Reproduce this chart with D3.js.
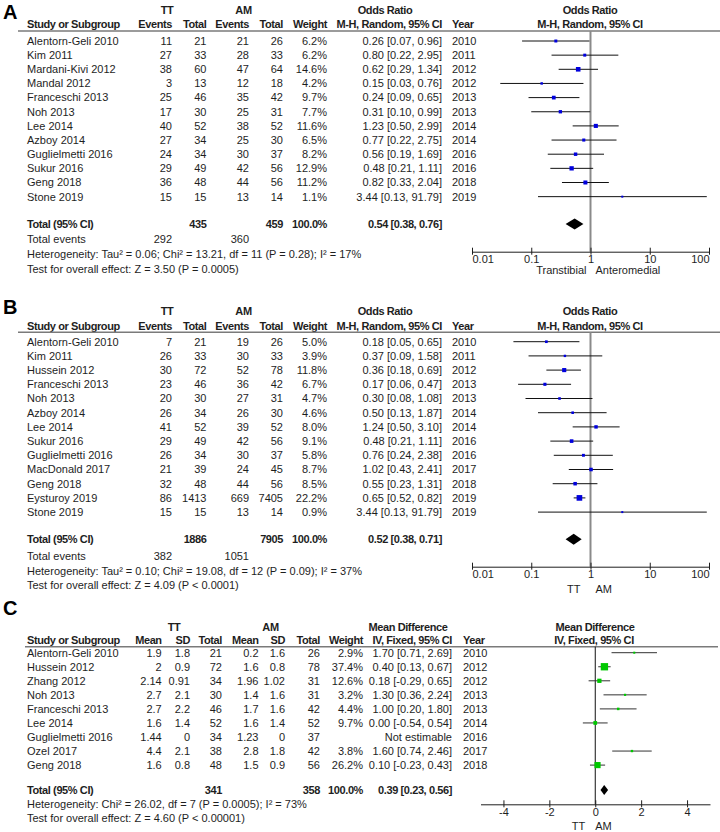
<!DOCTYPE html>
<html><head><meta charset="utf-8">
<script src="https://cdn.jsdelivr.net/npm/d3@7"></script>
<style>
body{margin:0;background:#fff}
svg{display:block}
text{font-family:"Liberation Sans",Arial,Helvetica,sans-serif;font-size:11px;fill:#1e1e1e}
text.b{font-weight:bold;letter-spacing:-0.4px}
text.lab{font-weight:bold;font-size:20px;fill:#000;letter-spacing:0}
</style>
</head><body>
<script>
// ---------- DATA ----------
const ticksOR = [0.01, 0.1, 1, 10, 100];
const ticksMD = [-4, -2, 0, 2, 4];

// Panel A
const studiesA = ["Alentorn-Geli 2010","Kim 2011","Mardani-Kivi 2012","Mandal 2012","Franceschi 2013","Noh 2013","Lee 2014","Azboy 2014","Guglielmetti 2016","Sukur 2016","Geng 2018","Stone 2019"];
const ttEventsA = [11,27,38,3,25,17,40,27,24,29,36,15];
const ttTotalA  = [21,33,60,13,46,30,52,34,34,49,48,15];
const amEventsA = [21,28,47,12,35,25,38,25,30,42,44,13];
const amTotalA  = [26,33,64,18,42,31,52,30,37,56,56,14];
const weightA   = [6.2,6.2,14.6,4.2,9.7,7.7,11.6,6.5,8.2,12.9,11.2,1.1];
const orA   = [0.26,0.80,0.62,0.15,0.24,0.31,1.23,0.77,0.56,0.48,0.82,3.44];
const lowA  = [0.07,0.22,0.29,0.03,0.09,0.10,0.50,0.22,0.19,0.21,0.33,0.13];
const highA = [0.96,2.95,1.34,0.76,0.65,0.99,2.99,2.75,1.69,1.11,2.04,91.79];
const yearA = [2010,2011,2012,2012,2013,2013,2014,2014,2016,2016,2018,2019];
const totalA  = [435,459];
const eventsA = [292,360];
const pooledA = [0.54,0.38,0.76];
const hetA  = "Heterogeneity: Tau\u00b2 = 0.06; Chi\u00b2 = 13.21, df = 11 (P = 0.28); I\u00b2 = 17%";
const testA = "Test for overall effect: Z = 3.50 (P = 0.0005)";
const favA  = ["Transtibial","Anteromedial"];

// Panel B
const studiesB = ["Alentorn-Geli 2010","Kim 2011","Hussein 2012","Franceschi 2013","Noh 2013","Azboy 2014","Lee 2014","Sukur 2016","Guglielmetti 2016","MacDonald 2017","Geng 2018","Eysturoy 2019","Stone 2019"];
const ttEventsB = [7,26,30,23,20,26,41,29,26,21,32,86,15];
const ttTotalB  = [21,33,72,46,30,34,52,49,34,39,48,1413,15];
const amEventsB = [19,30,52,36,27,26,39,42,30,24,44,669,13];
const amTotalB  = [26,33,78,42,31,30,52,56,37,45,56,7405,14];
const weightB   = [5.0,3.9,11.8,6.7,4.7,4.6,8.0,9.1,5.8,8.7,8.5,22.2,0.9];
const orB   = [0.18,0.37,0.36,0.17,0.30,0.50,1.24,0.48,0.76,1.02,0.55,0.65,3.44];
const lowB  = [0.05,0.09,0.18,0.06,0.08,0.13,0.50,0.21,0.24,0.43,0.23,0.52,0.13];
const highB = [0.65,1.58,0.69,0.47,1.08,1.87,3.10,1.11,2.38,2.41,1.31,0.82,91.79];
const yearB = [2010,2011,2012,2013,2013,2014,2014,2016,2016,2017,2018,2019,2019];
const totalB  = [1886,7905];
const eventsB = [382,1051];
const pooledB = [0.52,0.38,0.71];
const hetB  = "Heterogeneity: Tau\u00b2 = 0.10; Chi\u00b2 = 19.08, df = 12 (P = 0.09); I\u00b2 = 37%";
const testB = "Test for overall effect: Z = 4.09 (P < 0.0001)";
const favB  = ["TT","AM"];

// Panel C
const studiesC = ["Alentorn-Geli 2010","Hussein 2012","Zhang 2012","Noh 2013","Franceschi 2013","Lee 2014","Guglielmetti 2016","Ozel 2017","Geng 2018"];
const ttMeanC  = [1.9,2,2.14,2.7,2.7,1.6,1.44,4.4,1.6];
const ttSDC    = [1.8,0.9,0.91,2.1,2.2,1.4,0,2.1,0.8];
const ttTotalC = [21,72,34,30,46,52,34,38,48];
const amMeanC  = [0.2,1.6,1.96,1.4,1.7,1.6,1.23,2.8,1.5];
const amSDC    = [1.6,0.8,1.02,1.6,1.6,1.4,0,1.8,0.9];
const amTotalC = [26,78,31,31,42,52,37,42,56];
const weightC  = [2.9,37.4,12.6,3.2,4.4,9.7,null,3.8,26.2];
const mdC   = [1.70,0.40,0.18,1.30,1.00,0.00,null,1.60,0.10];
const lowC  = [0.71,0.13,-0.29,0.36,0.20,-0.54,null,0.74,-0.23];
const highC = [2.69,0.67,0.65,2.24,1.80,0.54,null,2.46,0.43];
const yearC = [2010,2012,2012,2013,2013,2014,2016,2017,2018];
const totalC  = [341,358];
const pooledC = [0.39,0.23,0.56];
const hetC  = "Heterogeneity: Chi\u00b2 = 26.02, df = 7 (P = 0.0005); I\u00b2 = 73%";
const testC = "Test for overall effect: Z = 4.60 (P < 0.00001)";
const favC  = ["TT","AM"];

// ---------- DRAWING ----------
const svg = d3.select("body").append("svg").attr("width",720).attr("height",832);
const f2 = v => v.toFixed(2);
const fw = v => v.toFixed(1) + "%";
const ciText = (m,l,h) => `${f2(m)} [${f2(l)}, ${f2(h)}]`;
const sizeScale = d3.scaleSqrt().domain([0,100]).range([0,12]);

function T(g,x,y,s,anchor,bold){
  const t = g.append("text").attr("x",x).attr("y",y).attr("dy","0.35em").text(s);
  if(anchor) t.attr("text-anchor",anchor);
  if(bold) t.attr("class","b");
  return t;
}

function forest(g, L, x, rows, ciLow, ciHigh, est, wts, color, lineColor, pooled, nullVal, ticks, fav, nullStyle){
  g.append("line").attr("x1",x(nullVal)).attr("x2",x(nullVal)).attr("y1",L.lineY).attr("y2",L.axisY)
    .attr("stroke",nullStyle.color).attr("stroke-width",nullStyle.width);
  const idx = d3.range(rows.length).filter(i => est[i] !== null);
  const y = L.y;
  g.selectAll(null).data(idx).join("line")
    .attr("x1",i=>x(ciLow[i])).attr("x2",i=>x(ciHigh[i]))
    .attr("y1",i=>y(i)).attr("y2",i=>y(i))
    .attr("stroke",lineColor).attr("stroke-width",1);
  const s = i => Math.max(2,sizeScale(wts[i]));
  g.selectAll(null).data(idx).join("rect")
    .attr("x",i=>x(est[i]) - s(i)/2)
    .attr("y",i=>y(i) - s(i)/2)
    .attr("width",s).attr("height",s)
    .attr("fill",color);
  const h = L.diamondH/2;
  const pts = [[x(pooled[1]),L.totalY],[x(pooled[0]),L.totalY-h],[x(pooled[2]),L.totalY],[x(pooled[0]),L.totalY+h]];
  g.append("path").attr("d",d3.line()(pts)+"Z").attr("fill","#000");
  const ax = g.append("g").attr("transform",`translate(0,${L.axisY})`)
    .call(d3.axisBottom(x).tickValues(ticks).tickFormat(d=>String(d)).tickSizeInner(3).tickSizeOuter(0).tickPadding(1));
  ax.select(".domain").attr("stroke","#1e1e1e");
  ax.selectAll(".tick line").attr("y1",-4).attr("stroke","#1e1e1e");
  if(L.edgeAnchor){
    ax.selectAll(".tick text").attr("text-anchor",(d,i)=> i===0?"start":(i===ticks.length-1?"end":"middle"));
  }
  T(g, x(nullVal)-L.favGapL, L.favY, fav[0], "end");
  T(g, x(nullVal)+L.favGapR, L.favY, fav[1], "start");
}

function binaryPanel(L, d){
  const g = svg.append("g");
  const n = d.studies.length;
  L.y = d3.scaleLinear().domain([0,n-1]).range([L.row0, L.row0 + L.step*(n-1)]);
  const x = d3.scaleLog().domain([ticksOR[0], ticksOR[ticksOR.length-1]]).range([472,709]);
  g.append("text").attr("class","lab").attr("x",3).attr("y",L.labelY).text(L.label);
  T(g,167,L.h1,"TT","middle",true);
  T(g,243.5,L.h1,"AM","middle",true);
  T(g,385,L.h1,"Odds Ratio","middle",true);
  T(g,590,L.h1,"Odds Ratio","middle",true);
  T(g,27,L.h2,"Study or Subgroup","start",true);
  T(g,172,L.h2,"Events","end",true);
  T(g,206.5,L.h2,"Total","end",true);
  T(g,249,L.h2,"Events","end",true);
  T(g,283,L.h2,"Total","end",true);
  T(g,327,L.h2,"Weight","end",true);
  T(g,442,L.h2,"M-H, Random, 95% CI","end",true);
  T(g,452,L.h2,"Year","start",true);
  T(g,590,L.h2,"M-H, Random, 95% CI","middle",true);
  g.append("line").attr("x1",18).attr("x2",720).attr("y1",L.lineY).attr("y2",L.lineY).attr("stroke","#7a7a7a").attr("stroke-width",1.5);
  const cols = [
    [27,"start",i=>d.studies[i]],
    [172,"end",i=>d.ttE[i]],
    [206.5,"end",i=>d.ttT[i]],
    [249,"end",i=>d.amE[i]],
    [283,"end",i=>d.amT[i]],
    [327,"end",i=>fw(d.w[i])],
    [442,"end",i=>ciText(d.or[i],d.lo[i],d.hi[i])],
    [452,"start",i=>d.year[i]]
  ];
  cols.forEach(([cx,anc,fn])=>{
    g.selectAll(null).data(d3.range(n)).join("text")
      .attr("x",cx).attr("y",i=>L.y(i)).attr("dy","0.35em").attr("text-anchor",anc).text(fn);
  });
  T(g,27,L.totalY,"Total (95% CI)","start",true);
  T(g,206.5,L.totalY,d.total[0],"end",true);
  T(g,283,L.totalY,d.total[1],"end",true);
  T(g,327,L.totalY,"100.0%","end",true);
  T(g,442,L.totalY,ciText(d.pooled[0],d.pooled[1],d.pooled[2]),"end",true);
  T(g,27,L.evY,"Total events","start");
  T(g,172,L.evY,d.events[0],"end");
  T(g,249,L.evY,d.events[1],"end");
  T(g,27,L.hetY,d.het,"start");
  T(g,27,L.testY,d.test,"start");
  forest(g,L,x,d.studies,d.lo,d.hi,d.or,d.w,"#0000dd","#111",d.pooled,1,ticksOR,d.fav,{color:"#8a8a8a",width:2});
}

binaryPanel(
  {label:"A",labelY:18.5,h1:10,h2:24,lineY:31,row0:41,step:14.15,totalY:224,evY:239.3,hetY:254,testY:268.7,axisY:251.7,favY:270.5,diamondH:11,edgeAnchor:true,favGapL:4,favGapR:5},
  {studies:studiesA,ttE:ttEventsA,ttT:ttTotalA,amE:amEventsA,amT:amTotalA,w:weightA,or:orA,lo:lowA,hi:highA,year:yearA,total:totalA,events:eventsA,pooled:pooledA,het:hetA,test:testA,fav:favA}
);
binaryPanel(
  {label:"B",labelY:313.5,h1:311.5,h2:326,lineY:332.3,row0:341.7,step:14.2,totalY:539.3,evY:556,hetY:570.7,testY:585,axisY:566.7,favY:589.5,diamondH:11,edgeAnchor:true,favGapL:10,favGapR:5},
  {studies:studiesB,ttE:ttEventsB,ttT:ttTotalB,amE:amEventsB,amT:amTotalB,w:weightB,or:orB,lo:lowB,hi:highB,year:yearB,total:totalB,events:eventsB,pooled:pooledB,het:hetB,test:testB,fav:favB}
);

// Panel C
(function(){
  const L = {label:"C",labelY:615,h1:626.7,h2:640,lineY:646.7,row0:652.7,step:14.05,totalY:790,hetY:804,testY:818.3,axisY:804.3,favY:826,diamondH:10,edgeAnchor:false,favGapL:10,favGapR:0};
  const g = svg.append("g");
  const n = studiesC.length;
  L.y = d3.scaleLinear().domain([0,n-1]).range([L.row0, L.row0 + L.step*(n-1)]);
  const x = d3.scaleLinear().domain([-5,5]).range([480.5,710]);
  g.append("text").attr("class","lab").attr("x",3).attr("y",L.labelY).text(L.label);
  T(g,174,L.h1,"TT","middle",true);
  T(g,270.5,L.h1,"AM","middle",true);
  T(g,408,L.h1,"Mean Difference","middle",true);
  T(g,595,L.h1,"Mean Difference","middle",true);
  T(g,27,L.h2,"Study or Subgroup","start",true);
  T(g,161.7,L.h2,"Mean","end",true);
  T(g,190,L.h2,"SD","end",true);
  T(g,222,L.h2,"Total","end",true);
  T(g,258.5,L.h2,"Mean","end",true);
  T(g,285,L.h2,"SD","end",true);
  T(g,320,L.h2,"Total","end",true);
  T(g,363,L.h2,"Weight","end",true);
  T(g,452,L.h2,"IV, Fixed, 95% CI","end",true);
  T(g,463,L.h2,"Year","start",true);
  T(g,594,L.h2,"IV, Fixed, 95% CI","middle",true);
  g.append("line").attr("x1",25).attr("x2",718).attr("y1",L.lineY).attr("y2",L.lineY).attr("stroke","#7a7a7a").attr("stroke-width",1.5);
  const cols = [
    [27,"start",i=>studiesC[i]],
    [161.7,"end",i=>String(ttMeanC[i])],
    [190,"end",i=>String(ttSDC[i])],
    [222,"end",i=>ttTotalC[i]],
    [258.5,"end",i=>String(amMeanC[i])],
    [285,"end",i=>String(amSDC[i])],
    [320,"end",i=>amTotalC[i]],
    [363,"end",i=>weightC[i]===null?"":fw(weightC[i])],
    [452,"end",i=>mdC[i]===null?"Not estimable":ciText(mdC[i],lowC[i],highC[i])],
    [463,"start",i=>yearC[i]]
  ];
  cols.forEach(([cx,anc,fn])=>{
    g.selectAll(null).data(d3.range(n)).join("text")
      .attr("x",cx).attr("y",i=>L.y(i)).attr("dy","0.35em").attr("text-anchor",anc).text(fn);
  });
  T(g,27,L.totalY,"Total (95% CI)","start",true);
  T(g,222,L.totalY,totalC[0],"end",true);
  T(g,320,L.totalY,totalC[1],"end",true);
  T(g,363,L.totalY,"100.0%","end",true);
  T(g,452,L.totalY,ciText(pooledC[0],pooledC[1],pooledC[2]),"end",true);
  T(g,27,L.hetY,hetC,"start");
  T(g,27,L.testY,testC,"start");
  forest(g,L,x,studiesC,lowC,highC,mdC,weightC,"#00c800","#333",pooledC,0,ticksMD,favC,{color:"#111",width:1});
})();
</script>
</body></html>
